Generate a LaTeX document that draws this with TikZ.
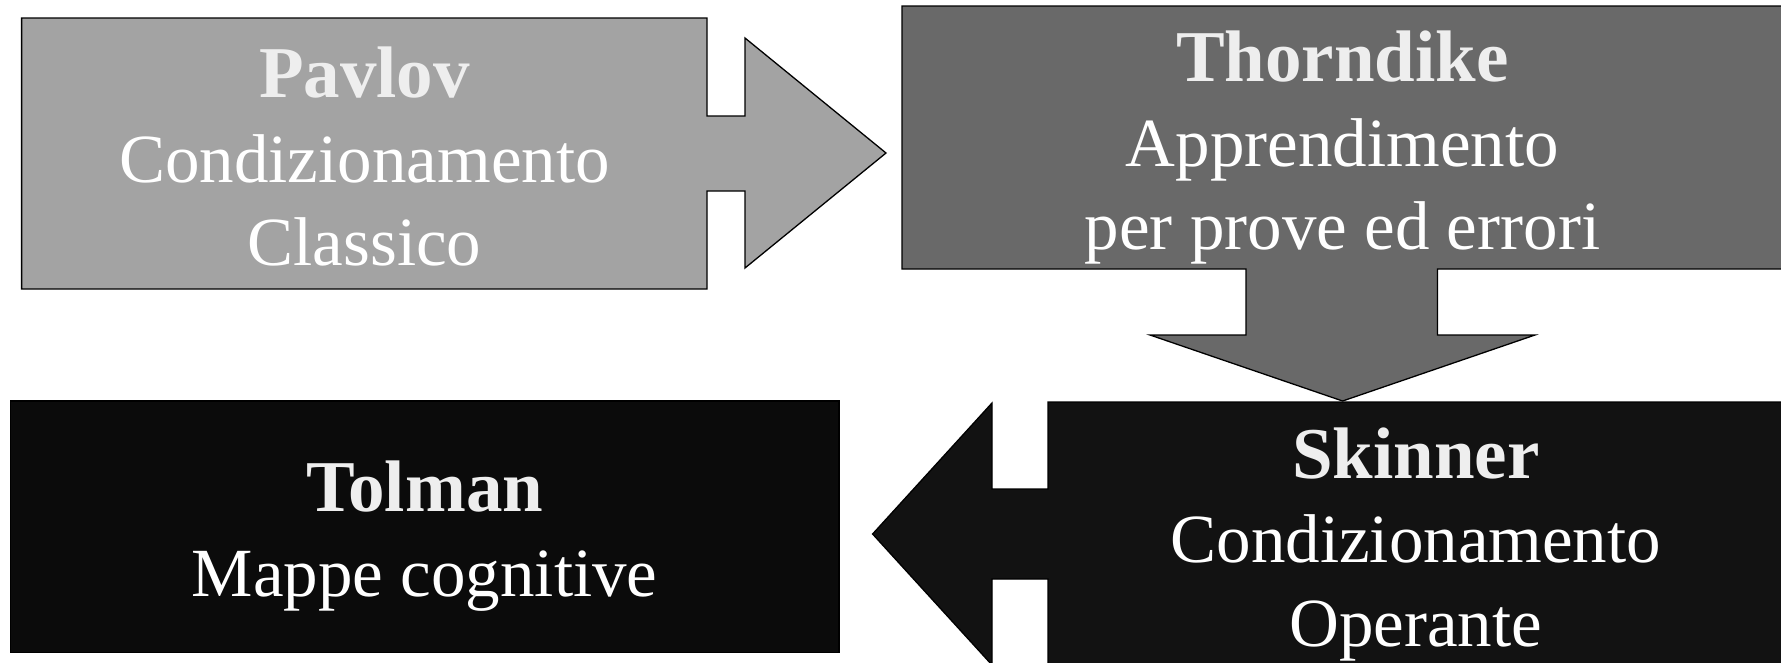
\documentclass[tikz,border=0pt]{standalone}
\usepackage{fontspec}
\setmainfont{Liberation Serif}
\definecolor{pavlovfill}{HTML}{A3A3A3}
\definecolor{thornfill}{HTML}{696969}
\definecolor{skinfill}{HTML}{121212}
\definecolor{tolfill}{HTML}{0B0B0B}
\definecolor{titlecol}{HTML}{EEEEEE}
\begin{document}
\begin{tikzpicture}[x=1pt,y=-1pt,
  shapebox/.style={draw=black,line width=1.3pt,line join=miter},
  titletext/.style={anchor=base,inner sep=0pt,text=titlecol,font=\fontsize{73}{80}\selectfont\bfseries},
  bodytext/.style={anchor=base,inner sep=0pt,text=white,font=\fontsize{69}{80}\selectfont}]
\useasboundingbox (0,0) rectangle (1781,662);
% Pavlov callout with right arrow
\draw[shapebox,fill=pavlovfill] (21.6,18) -- (707,18) -- (707,116) -- (745,116) -- (745,38)
  -- (886,153) -- (745,268) -- (745,191) -- (707,191) -- (707,289) -- (21.6,289) -- cycle;
% Thorndike callout with down arrow
\draw[shapebox,fill=thornfill] (902,6) -- (1790,6) -- (1790,269) -- (1437.5,269) -- (1437.5,335)
  -- (1535,335) -- (1342.6,401) -- (1150,335) -- (1246,335) -- (1246,269) -- (902,269) -- cycle;
% Skinner callout with left arrow
\draw[shapebox,fill=skinfill] (1048,402) -- (1790,402) -- (1790,680) -- (1048,680) -- (1048,579)
  -- (992,579) -- (992,665) -- (872.6,534) -- (992,403) -- (992,489) -- (1048,489) -- cycle;
% Tolman box
\draw[shapebox,fill=tolfill] (10.3,401) rectangle (839,652.7);
% texts
\node[titletext] (pavT) at (364.5,97.7) {Pavlov};
\node[bodytext] (pav1) at (364.5,182.7) {Condizionamento};
\node[bodytext] (pav2) at (364.5,265.7) {Classico};
\node[titletext] (thoT) at (1342.5,81.7) {Thorndike};
\node[bodytext] (tho1) at (1342.5,166.7) {Apprendimento};
\node[bodytext] (tho2) at (1342.5,249.3) {per prove ed errori};
\node[titletext] (skiT) at (1415.8,478.3) {Skinner};
\node[bodytext] (ski1) at (1415.8,562.7) {Condizionamento};
\node[bodytext] (ski2) at (1415.8,646.7) {Operante};
\node[titletext] (tolT) at (424.7,511.7) {Tolman};
\node[bodytext] (tol1) at (424.7,596) {Mappe cognitive};
\end{tikzpicture}
\end{document}
